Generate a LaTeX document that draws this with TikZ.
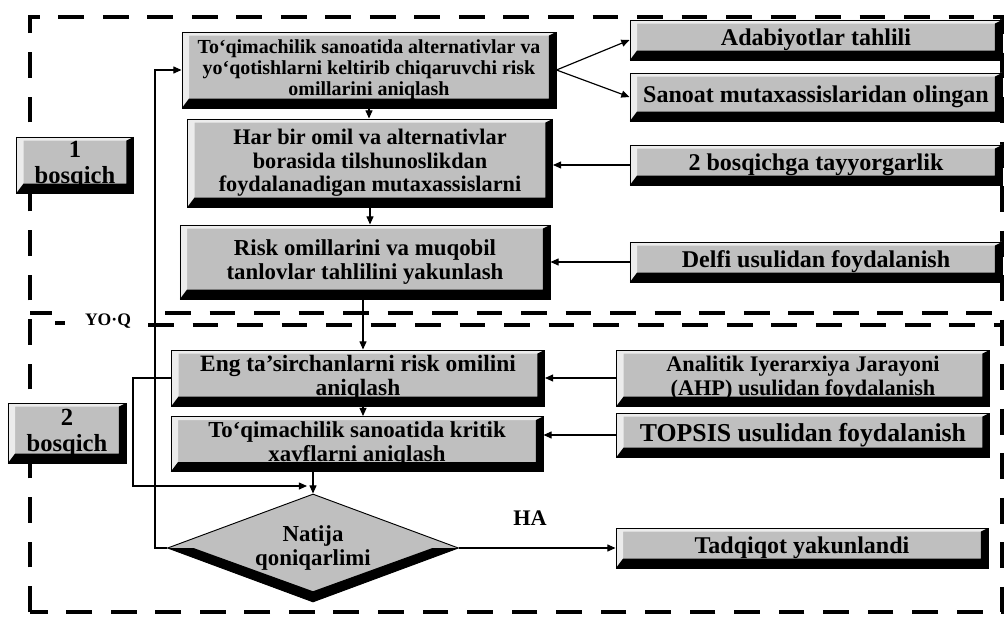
\documentclass[tikz,border=0pt]{standalone}
\usepackage{fontspec}
\setmainfont{Liberation Serif}
\usetikzlibrary{arrows.meta,shapes.geometric}
\newcommand\fs[2]{\bfseries\fontsize{#1}{#2}\selectfont}
\tikzset{
  bev/.style={draw=black, line width=0.8pt, fill=gray!50, inner sep=2pt, align=center,
    font=\fs{17}{18}, text=black,
    path picture={
      \coordinate (pSW) at (path picture bounding box.south west);
      \coordinate (pNE) at (path picture bounding box.north east);
      \coordinate (pNW) at (path picture bounding box.north west);
      \coordinate (pSE) at (path picture bounding box.south east);
      \fill[gray!15] (pSW) -- (pNW) -- (pNE) -- ([shift={(-6pt,-3pt)}]pNE) -- ([shift={(6pt,-3pt)}]pNW) -- ([shift={(6pt,8pt)}]pSW) -- cycle;
      \fill[black] (pSW) -- (pSE) -- (pNE) -- ([shift={(-6pt,-3pt)}]pNE) -- ([shift={(-6pt,8pt)}]pSE) -- ([shift={(6pt,8pt)}]pSW) -- cycle;
    }},
  side/.style={bev, font=\fs{20.5}{21}},
  dia/.style={shape=diamond, aspect=2.7, draw=black, line width=0.8pt, fill=gray!50, inner sep=0pt, align=center,
    font=\fs{19.5}{20},
    path picture={
      \coordinate (dW) at (path picture bounding box.west);
      \coordinate (dE) at (path picture bounding box.east);
      \coordinate (dS) at (path picture bounding box.south);
      \fill[black] (dW) -- (dS) -- (dE) -- ([xshift=-22pt]dE) -- ([yshift=9pt]dS) -- ([xshift=22pt]dW) -- cycle;
    }},
  arr/.style={-{Triangle[length=7pt,width=6pt]}, line width=1pt},
  bord/.style={line width=3.5pt, dash pattern=on 22pt off 16pt},
}
\begin{document}
\begin{tikzpicture}[x=0.03cm, y=-0.03cm]
\useasboundingbox (0,0) rectangle (1004,620);

% dashed frames
\draw[bord] (30,612) -- (30,17) -- (1002,17) -- (1002,612) -- cycle;
\draw[line width=3.5pt] (30,313) -- (52,313);
\draw[line width=3.5pt] (55,323) -- (65,323);
\draw[bord] (165,313) -- (1004,313);
\draw[bord] (148,325) -- (1004,325);
\node[font=\fs{15}{15}, fill=white, inner sep=1pt] (yoq) at (108,321) {YO·Q};

% left column boxes
\node[bev, minimum width=11.22cm, minimum height=2.28cm] (A) at (369,70)
  {To‘qimachilik sanoatida alternativlar va\\ yo‘qotishlarni keltirib chiqaruvchi risk\\ omillarini aniqlash};
\node[bev, font=\fs{19}{20}, minimum width=10.95cm, minimum height=2.64cm] (B) at (370,163)
  {Har bir omil va alternativlar\\ borasida tilshunoslikdan\\ foydalanadigan mutaxassislarni};
\node[bev, font=\fs{19.5}{20.5}, minimum width=11.1cm, minimum height=2.22cm] (C) at (365,262)
  {Risk omillarini va muqobil\\ tanlovlar tahlilini yakunlash};
\node[bev, font=\fs{20}{20.5}, minimum width=11.19cm, minimum height=1.68cm] (D) at (358,378)
  {Eng ta’sirchanlarni risk omilini\\ aniqlash};
\node[bev, font=\fs{19.5}{20.5}, minimum width=11.16cm, minimum height=1.65cm] (E) at (357,444)
  {To‘qimachilik sanoatida kritik\\ xavflarni aniqlash};
\node[dia, minimum width=8.73cm, minimum height=3.24cm] (Dia) at (313,548)
  {Natija\\ qoniqarlimi};

% stage labels
\node[side, font=\fs{21}{21.5}, minimum width=3.51cm, minimum height=1.68cm] (S1) at (75,165) {1\\ bosqich};
\node[side, font=\fs{21}{21.5}, minimum width=3.54cm, minimum height=1.8cm] (S2) at (67,433) {2\\ bosqich};

% right column boxes
\node[side, minimum width=11.16cm, minimum height=1.2cm] (Adab) at (816,40) {Adabiyotlar tahlili};
\node[side, minimum width=11.16cm, minimum height=1.44cm] (San) at (816,97) {Sanoat mutaxassislaridan olingan};
\node[side, minimum width=11.16cm, minimum height=1.2cm] (Tay) at (816,165) {2 bosqichga tayyorgarlik};
\node[side, minimum width=11.16cm, minimum height=1.2cm] (Del) at (816,262) {Delfi usulidan foydalanish};
\node[side, font=\fs{19}{20.5}, minimum width=11.19cm, minimum height=1.68cm] (AHP) at (803,378)
  {Analitik Iyerarxiya Jarayoni\\ (AHP) usulidan foydalanish};
\node[side, font=\fs{22}{22}, minimum width=11.19cm, minimum height=1.32cm] (TOP) at (803,435) {TOPSIS usulidan foydalanish};
\node[side, minimum width=11.16cm, minimum height=1.2cm] (Tad) at (802,548) {Tadqiqot yakunlandi};

\node[font=\fs{19}{19}] (HA) at (530,518) {HA};

% connectors
\draw[arr] (A.east) -- (Adab.west);
\draw[arr] (A.east) -- (San.west);
\draw[arr] (A.south) -- (A.south |- B.north);
\draw[arr] (B.south) -- (B.south |- C.north);
\draw[arr] (Tay.west) -- (Tay.west -| B.east);
\draw[arr] (Del.west) -- (Del.west -| C.east);
\draw[arr] (C.south -| 363,0) -- (D.north -| 363,0);
\draw[arr] (AHP.west) -- (D.east);
\draw[arr] (D.south -| 363,0) -- (E.north -| 363,0);
\draw[arr] (TOP.west) -- (TOP.west -| E.east);
\draw[arr] (E.south -| Dia.north) -- (Dia.north);
\coordinate (loopEnd) at (307,486);
\draw[arr] (D.west) -- (133,378) -- (133,486) -- (loopEnd);
\draw[arr] (Dia.west) -- (155,548) |- (A.west);
\draw[arr] (Dia.east) -- (Tad.west);
\end{tikzpicture}
\end{document}
